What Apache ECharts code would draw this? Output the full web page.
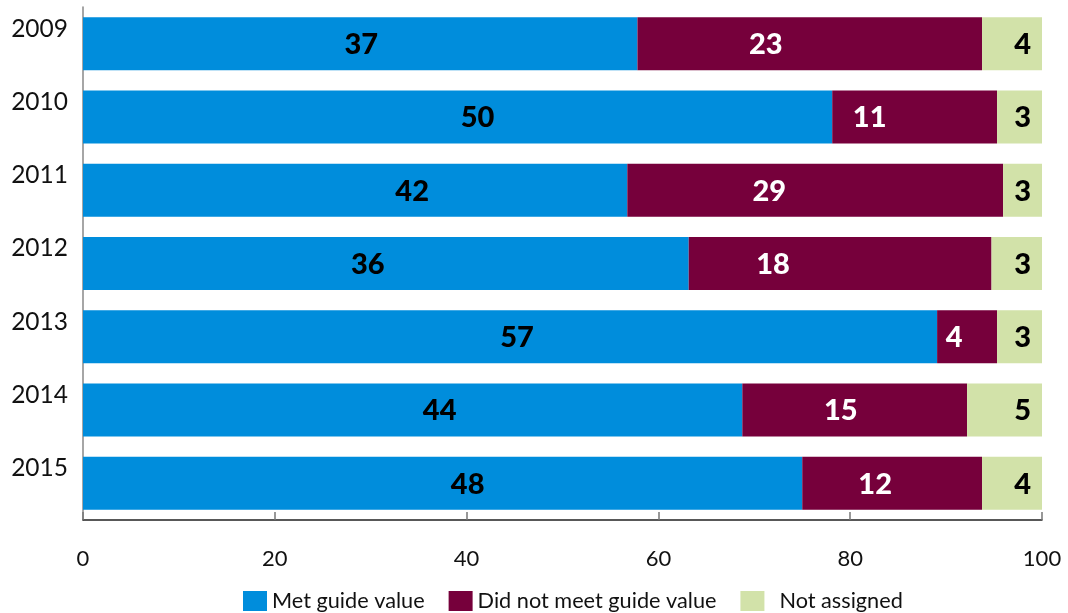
<!DOCTYPE html>
<html>
<head>
<meta charset="utf-8">
<script src="https://cdn.jsdelivr.net/npm/echarts@6/dist/echarts.min.js"></script>
<style>
  html, body { margin: 0; padding: 0; background: #fff; }
  #chart { width: 1068px; height: 613px; }
</style>
</head>
<body>
<div id="chart"></div>
<script>
// Samples per year, split by outcome (counts); bars show each year's shares.
const years = ['2009', '2010', '2011', '2012', '2013', '2014', '2015'];
const metGuide = [37, 50, 42, 36, 57, 44, 48];
const notMet = [23, 11, 29, 18, 4, 15, 12];
const notAssigned = [4, 3, 3, 3, 3, 5, 4];
const seriesNames = ['Met guide value', 'Did not meet guide value', 'Not assigned'];
const xTickStep = 20;

// Horizontal label nudges (px) for the count labels
const metLabelShift = [1, 20, 57, -18, 7, 27, 25];
const notMetLabelShift = [-44, -45, -46, -67, -13, -14, -17];

const totals = years.map((_, i) => metGuide[i] + notMet[i] + notAssigned[i]);
const share = (arr) => arr.map((v, i) => ({ value: v / totals[i] * 100, count: v }));

const labelFont = { fontFamily: 'Lato', fontWeight: 900, fontSize: 29 };

function series(name, counts, color, labelColor, shifts, position) {
  return {
    name: name,
    type: 'bar',
    stack: 'all',
    barWidth: 53,
    itemStyle: { color: color },
    emphasis: { disabled: true },
    data: share(counts).map((d, i) => ({
      value: d.value,
      count: d.count,
      label: shifts ? { offset: [shifts[i], 1] } : { offset: [0, 1] }
    })),
    label: Object.assign({
      show: true,
      position: position,
      distance: 11,
      color: labelColor,
      formatter: (p) => String(p.data.count)
    }, labelFont)
  };
}

const chart = echarts.init(document.getElementById('chart'), null, { renderer: 'canvas' });
chart.setOption({
  animation: false,
  textStyle: { fontFamily: 'Lato' },
  grid: { left: 83, right: 26, top: 7, bottom: 93 },
  legend: {
    left: 238,
    top: 585,
    itemWidth: 24,
    itemHeight: 20,
    itemGap: 24,
    icon: 'rect',
    textStyle: { fontFamily: 'Lato', fontSize: 21.7, color: '#111' },
    data: [
      seriesNames[0],
      seriesNames[1],
      { name: seriesNames[2], textStyle: { padding: [0, 0, 0, 10] } }
    ]
  },
  xAxis: {
    type: 'value',
    min: 0,
    max: 100,
    interval: xTickStep,
    axisLine: { show: true, lineStyle: { color: '#222', width: 1.5 } },
    axisTick: { show: true, inside: true, length: 8, lineStyle: { color: '#777', width: 1.5 } },
    axisLabel: { fontFamily: 'Lato', fontSize: 22, color: '#111', margin: 28 },
    splitLine: { show: false }
  },
  yAxis: {
    type: 'category',
    inverse: true,
    data: years,
    axisLine: { show: true, lineStyle: { color: '#888', width: 1.5 } },
    axisTick: { show: false },
    axisLabel: {
      fontFamily: 'Lato', fontSize: 24.5, color: '#111', margin: 15,
      verticalAlign: 'bottom', lineHeight: 30
    }
  },
  series: [
    series(seriesNames[0], metGuide, '#008ddc', '#000', metLabelShift, 'inside'),
    series(seriesNames[1], notMet, '#76003b', '#fff', notMetLabelShift, 'inside'),
    series(seriesNames[2], notAssigned, '#d2e2a9', '#000', null, 'insideRight')
  ]
});
</script>
</body>
</html>
